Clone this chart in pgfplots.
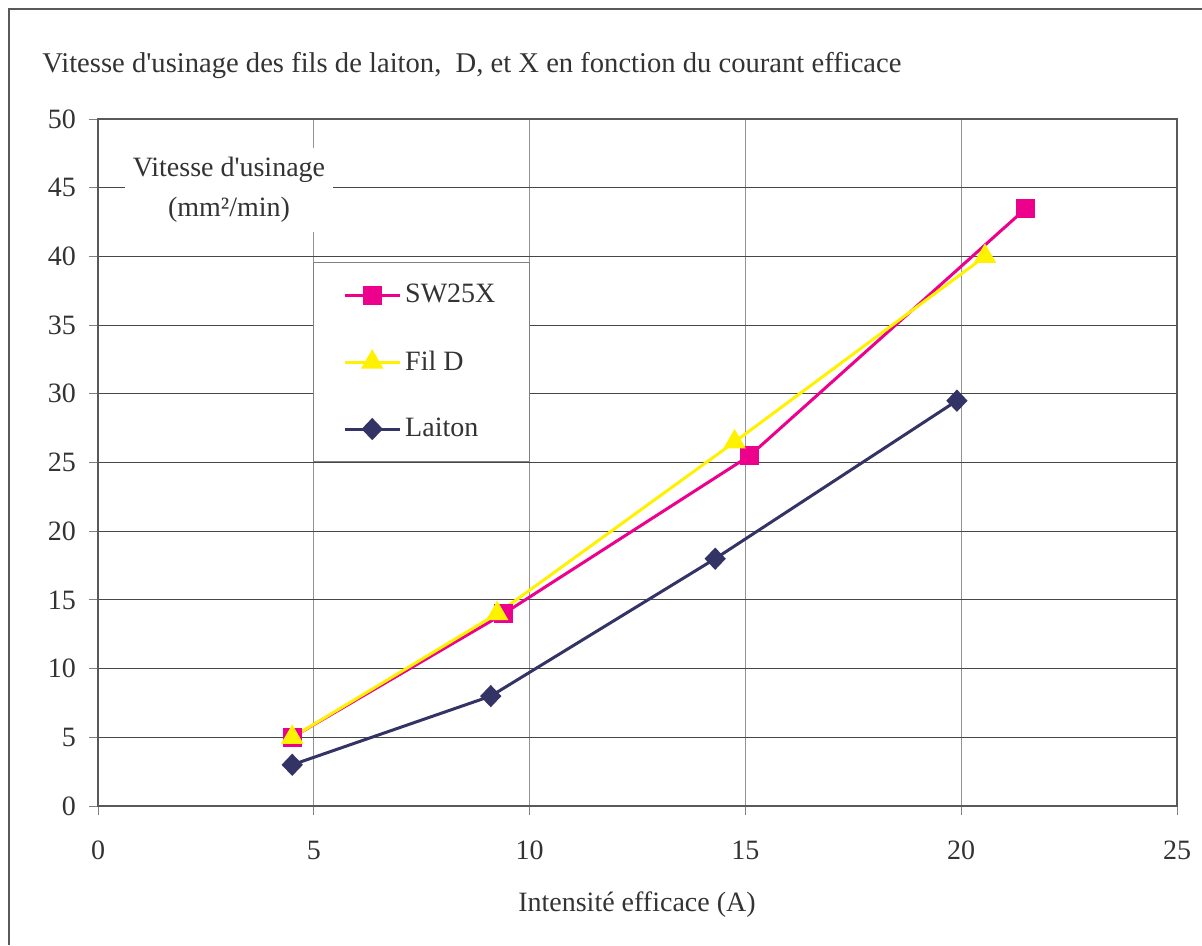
\documentclass[border=0pt]{standalone}
\usepackage{fontspec}
\setmainfont{Liberation Serif}
\usepackage{pgfplots}
\pgfplotsset{compat=1.18}
\definecolor{mag}{RGB}{236,0,140}
\definecolor{yel}{RGB}{255,242,0}
\definecolor{nav}{RGB}{51,51,102}
\definecolor{txt}{RGB}{51,51,51}
\newlength\px \setlength\px{0.5bp}
\begin{document}
\begin{tikzpicture}
\useasboundingbox (0,0) rectangle (1202\px,-945\px);
\draw[line width=2\px, color=gray!70!black] (9\px,-945\px) -- (9\px,-9\px) -- (1202\px,-9\px);
\node[anchor=west, font=\fontsize{14.3bp}{16bp}\selectfont, text=txt, inner sep=0pt] at (42\px,-66\px) {Vitesse d\textquotesingle usinage des fils de laiton,\ \ D, et X en fonction du courant efficace};
\begin{axis}[
  at={(98\px,-806\px)}, anchor=south west,
  width=1079\px, height=687\px, scale only axis,
  xmin=0, xmax=25, ymin=0, ymax=50,
  xtick={0,5,...,25}, ytick={0,5,...,50},
  grid=major,
  x grid style={color=gray!85, line width=1\px},
  y grid style={color=black!72, line width=1\px},
  axis line style={color=black!65, line width=1.6\px},
  tick align=outside, tick pos=left, major tick length=4.5bp,
  every tick/.style={color=gray, line width=1\px},
  /pgf/number format/assume math mode=true,
  ticklabel style={font=\fontsize{14bp}{16bp}\selectfont, text=txt},
  xticklabel style={yshift=-9.5bp},
  yticklabel style={xshift=-3bp},
  xlabel={Intensité efficace (A)},
  every axis x label/.style={at={(axis description cs:0.4995,0)}, anchor=center, yshift=-49.5bp, font=\fontsize{14bp}{16bp}\selectfont, text=txt},
  legend style={at={(0.199,0.792)}, anchor=north west, draw=gray, line width=1\px, fill=white,
    font=\fontsize{14bp}{16bp}\selectfont, text=txt, row sep=18.5bp, inner xsep=15bp, inner ysep=9bp},
  legend cell align=left,
  legend image code/.code={\draw[mark repeat=2,mark phase=2] plot coordinates {(0bp,0bp) (13.75bp,0bp) (27.5bp,0bp)};},
]
\addplot[mag, line width=1.5bp, mark=square*, mark size=4bp] coordinates {(4.5,5) (9.4,14) (15.1,25.5) (21.5,43.5)};
\addlegendentry{SW25X}
\addplot[yel, line width=1.5bp, mark=triangle*, mark size=5bp] coordinates {(4.5,5) (9.25,14) (14.75,26.5) (20.55,40)};
\addlegendentry{Fil D}
\addplot[nav, line width=1.5bp, mark=diamond*, mark size=4.5bp, mark options={xscale=1.27}] coordinates {(4.5,3) (9.1,8) (14.3,18) (19.9,29.5)};
\addlegendentry{Laiton}
\node[fill=white, align=center, minimum width=104bp, minimum height=42bp, inner sep=0pt, text=txt,
  font=\fontsize{14bp}{20bp}\selectfont] at (axis description cs:0.1214,0.8967) {Vitesse d\textquotesingle usinage\\(mm²/min)};
\end{axis}
\end{tikzpicture}
\end{document}
